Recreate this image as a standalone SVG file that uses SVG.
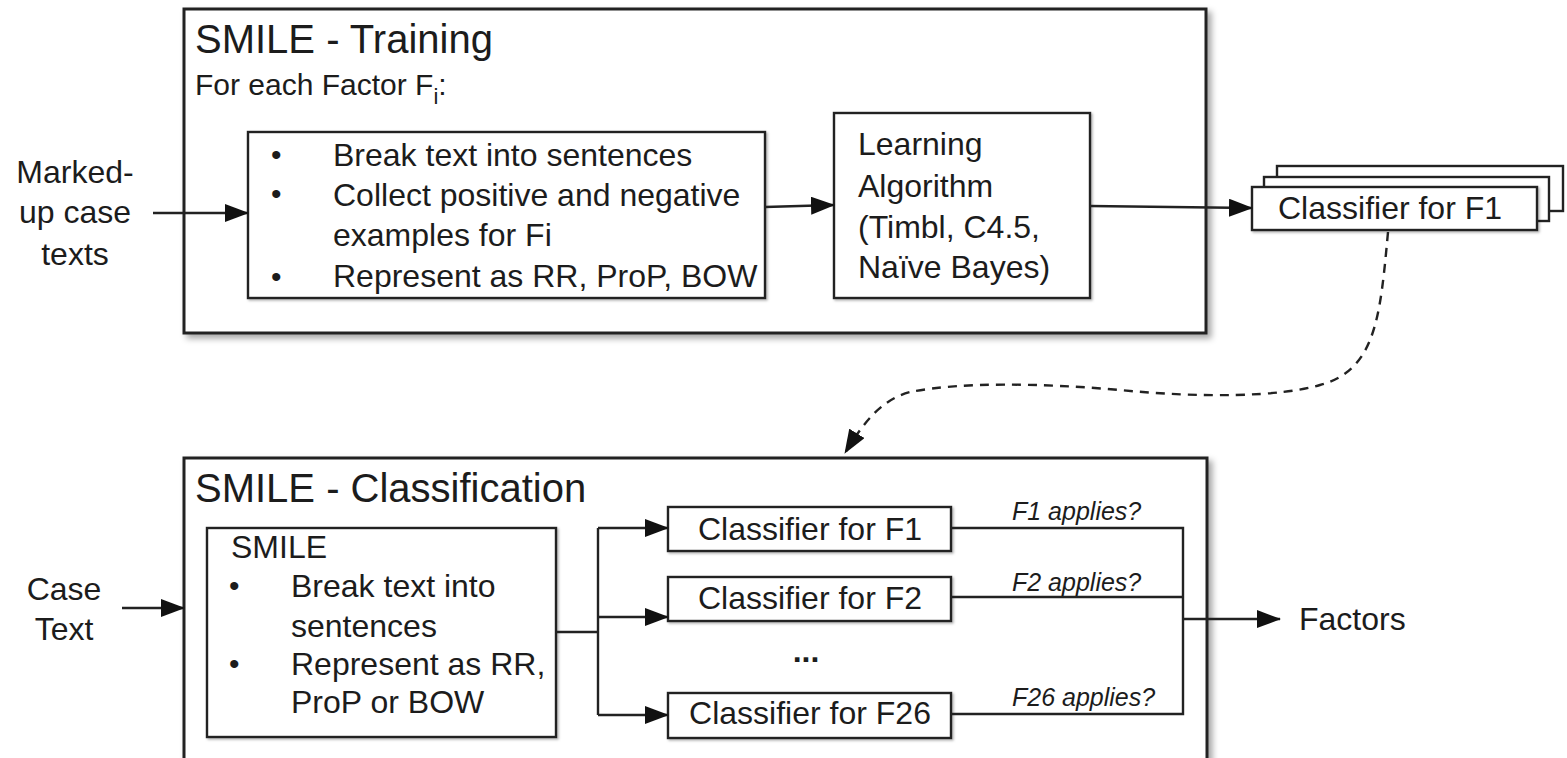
<svg xmlns="http://www.w3.org/2000/svg" width="1567" height="758" viewBox="0 0 1567 758">
<defs>
<style>
text{font-family:"Liberation Sans",Arial,sans-serif;fill:#1c1c1c}
.t{font-size:32px}
.h{font-size:40px}
.s{font-size:30px}
.lab{font-size:25px;font-style:italic}
.bul{font-size:30px}
.mid{text-anchor:middle}
.outer{fill:#fff;stroke:#222;stroke-width:3}
.box{fill:#fff;stroke:#222;stroke-width:2.4}
.ln{fill:none;stroke:#222;stroke-width:2.4}
.arr{fill:none;stroke:#222;stroke-width:2.4;marker-end:url(#ah)}
.dash{fill:none;stroke:#222;stroke-width:2.4;stroke-dasharray:9 7;marker-end:url(#ah)}
</style>
<marker id="ah" viewBox="0 0 24 18" refX="23" refY="9" markerWidth="24" markerHeight="18" markerUnits="userSpaceOnUse" orient="auto">
<path d="M0,0 L24,9 L0,18 z" fill="#111"/>
</marker>
<filter id="sh" x="-5%" y="-5%" width="112%" height="115%">
<feDropShadow dx="4" dy="4" stdDeviation="3" flood-color="#000" flood-opacity="0.35"/>
</filter>
<filter id="sh2" x="-5%" y="-5%" width="112%" height="120%">
<feDropShadow dx="1.5" dy="1.5" stdDeviation="1" flood-color="#000" flood-opacity="0.3"/>
</filter>
</defs>
<rect width="1567" height="758" fill="#fff"/>

<g id="training">
<rect class="outer" x="184" y="9" width="1022" height="324" filter="url(#sh)"/>
<text class="h" x="195" y="53">SMILE - Training</text>
<text class="s" x="195" y="95">For each Factor F<tspan font-size="22" dy="9">i</tspan><tspan dy="-9">:</tspan></text>
</g>

<g id="prep">
<rect class="box" x="248" y="132" width="517" height="166" filter="url(#sh2)"/>
<text class="bul" x="271" y="165">•</text>
<text class="t" x="333" y="166">Break text into sentences</text>
<text class="bul" x="271" y="204">•</text>
<text class="t" x="333" y="206">Collect positive and negative</text>
<text class="t" x="333" y="246">examples for Fi</text>
<text class="bul" x="271" y="287">•</text>
<text class="t" x="333" y="287">Represent as RR, ProP, BOW</text>
</g>

<g id="learning">
<rect class="box" x="834" y="113" width="256" height="185" filter="url(#sh2)"/>
<text class="t" x="858" y="155">Learning</text>
<text class="t" x="858" y="197">Algorithm</text>
<text class="t" x="858" y="238">(Timbl, C4.5,</text>
<text class="t" x="858" y="278">Naïve Bayes)</text>
</g>

<g id="classifier-stack">
<rect class="box" x="1277" y="166" width="286" height="45"/>
<rect class="box" x="1264" y="177" width="285" height="44"/>
<rect class="box" x="1252" y="187" width="285" height="43" filter="url(#sh2)"/>
<text class="t" x="1278" y="219">Classifier for F1</text>
</g>

<g id="input-training">
<text class="t mid" x="75" y="183">Marked-</text>
<text class="t mid" x="75" y="223">up case</text>
<text class="t mid" x="75" y="265">texts</text>
</g>

<g id="classification">
<rect class="outer" x="184" y="458" width="1023" height="320" filter="url(#sh)"/>
<text class="h" x="195" y="502">SMILE - Classification</text>
</g>

<g id="smile">
<rect class="box" x="207" y="528" width="349" height="209" filter="url(#sh2)"/>
<text class="t" x="231" y="558">SMILE</text>
<text class="bul" x="229" y="596">•</text>
<text class="t" x="291" y="597">Break text into</text>
<text class="t" x="291" y="637">sentences</text>
<text class="bul" x="229" y="674">•</text>
<text class="t" x="291" y="675">Represent as RR,</text>
<text class="t" x="291" y="713">ProP or BOW</text>
</g>

<g id="input-classification">
<text class="t mid" x="64" y="600">Case</text>
<text class="t mid" x="64" y="640">Text</text>
</g>

<g id="cf1">
<rect class="box" x="668" y="507" width="283" height="44" filter="url(#sh2)"/>
<text class="t mid" x="810" y="540">Classifier for F1</text>
</g>
<g id="cf2">
<rect class="box" x="668" y="577" width="283" height="44" filter="url(#sh2)"/>
<text class="t mid" x="810" y="609">Classifier for F2</text>
</g>
<g id="dots">
<text class="t mid" x="806" y="662" font-weight="bold" font-size="34">...</text>
</g>
<g id="cf26">
<rect class="box" x="668" y="693" width="283" height="45" filter="url(#sh2)"/>
<text class="t mid" x="810" y="724">Classifier for F26</text>
</g>

<g id="output">
<text class="t" x="1299" y="630">Factors</text>
</g>

<g id="connectors">
<path class="arr" d="M153,213 L248,213"/>
<path class="arr" d="M765,207 L834,205"/>
<path class="arr" d="M1090,206 L1252,208"/>
<path class="dash" d="M1388,232 C1380,320 1375,370 1320,385 C1280,397 1200,398 1120,390 C1040,383 960,382 910,392 C880,400 862,425 845,453"/>
<path class="arr" d="M122,608 L184,608"/>
<path class="ln" d="M556,632 L598,632 M598,528 L598,715"/>
<path class="arr" d="M598,528 L668,528"/>
<path class="arr" d="M598,617 L668,617"/>
<path class="arr" d="M598,715 L668,715"/>
<path class="ln" d="M951,528 L1183,528 L1183,714 L951,714 M951,597 L1183,597"/>
<path class="arr" d="M1183,619 L1280,619"/>
<text class="lab" x="1012" y="520">F1 applies?</text>
<text class="lab" x="1012" y="591">F2 applies?</text>
<text class="lab" x="1012" y="706">F26 applies?</text>
</g>
</svg>
